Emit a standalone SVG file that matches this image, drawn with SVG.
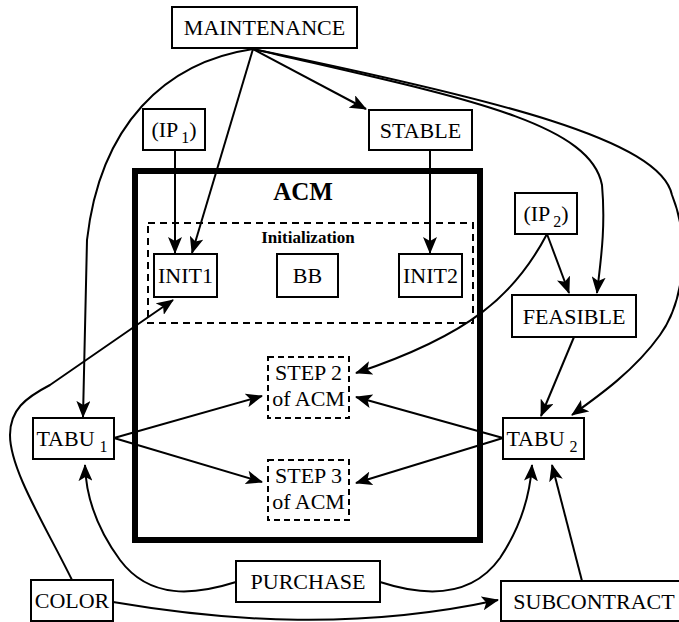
<svg xmlns="http://www.w3.org/2000/svg" width="679" height="622" viewBox="0 0 679 622">
<style>
.box{fill:#fff;stroke:#000;stroke-width:2}
.dash{fill:none;stroke:#000;stroke-width:2;stroke-dasharray:6,4}
text{font-family:'Liberation Serif','Times New Roman',serif;font-size:22px;fill:#000;text-anchor:middle}
.b{font-weight:bold}
.sub{font-size:16px}
.c{fill:none;stroke:#000;stroke-width:2;marker-end:url(#ah)}
</style>
<defs>
<marker id="ah" markerUnits="userSpaceOnUse" viewBox="0 0 17 14" markerWidth="17" markerHeight="14" refX="16" refY="7" orient="auto">
<path d="M0,0 L17,7 L0,14 L4,7 z" fill="#000"/>
</marker>
</defs>
<rect width="679" height="622" fill="#fff"/>

<g id="acm">
<rect x="135" y="171" width="345" height="369" fill="none" stroke="#000" stroke-width="6"/>
<text class="b" x="303" y="200" style="font-size:25px">ACM</text>
</g>
<g id="initialization">
<rect x="148" y="223" width="325" height="100" fill="none" stroke="#000" stroke-width="2" stroke-dasharray="7,5"/>
<text class="b" x="308" y="243" style="font-size:17px">Initialization</text>
</g>

<g id="connectors">
<path class="c" d="M253,49 L366,109"/>
<path class="c" d="M253,49 L192,253"/>
<path class="c" d="M175,150 L175,253"/>
<path class="c" d="M430,150 L430,253"/>
<path class="c" d="M253,49 C165,62 100,125 87,240 L83,417"/>
<path class="c" d="M253,49 C450,95 590,120 602,185 C606,230 600,265 597,293"/>
<path class="c" d="M253,49 C500,100 660,140 672,195 C690,240 685,300 660,335 C635,370 600,395 572,415"/>
<path class="c" d="M547,234 L569,293"/>
<path class="c" d="M547,234 C515,295 470,335 356,373"/>
<path class="c" d="M503,438 L356,397"/>
<path class="c" d="M503,438 L356,483"/>
<path class="c" d="M114,438 L262,396"/>
<path class="c" d="M114,438 L262,482"/>
<path class="c" d="M574,337 L541,416"/>
<path class="c" d="M72,580 C45,525 10,470 10,435 C10,410 25,398 50,385 L173,300"/>
<path class="c" d="M236,582 C195,595 150,600 120,560 C98,530 86,500 85,465"/>
<path class="c" d="M380,582 C420,595 470,600 500,558 C520,528 530,495 532,465"/>
<path class="c" d="M582,581 L552,465"/>
<path class="c" d="M113,602 C230,622 360,630 498,600"/>
</g>

<g id="maintenance"><rect class="box" x="172" y="7" width="185" height="41"/><text x="264.5" y="35">MAINTENANCE</text></g>
<g id="ip1"><rect class="box" x="143" y="109" width="62" height="41"/><text x="174" y="137">(IP<tspan class="sub" dx="3" dy="6">1</tspan><tspan dy="-6">)</tspan></text></g>
<g id="stable"><rect class="box" x="369" y="110" width="103" height="40"/><text x="420.5" y="137.5">STABLE</text></g>
<g id="init1"><rect class="box" x="154" y="254" width="63" height="43"/><text x="185.5" y="283">INIT1</text></g>
<g id="bb"><rect class="box" x="277" y="254" width="61" height="43"/><text x="307.5" y="283">BB</text></g>
<g id="init2"><rect class="box" x="399" y="254" width="63" height="43"/><text x="430.5" y="283">INIT2</text></g>
<g id="ip2"><rect class="box" x="515" y="193" width="62" height="41"/><text x="546" y="221">(IP<tspan class="sub" dx="3" dy="6">2</tspan><tspan dy="-6">)</tspan></text></g>
<g id="feasible"><rect class="box" x="512" y="295" width="124" height="42"/><text x="574" y="323.5">FEASIBLE</text></g>
<g id="step2"><rect class="dash" x="268" y="357" width="81" height="61"/><text x="308.5" y="380">STEP 2</text><text x="308.5" y="406">of ACM</text></g>
<g id="step3"><rect class="dash" x="268" y="460" width="81" height="60"/><text x="308.5" y="483">STEP 3</text><text x="308.5" y="509">of ACM</text></g>
<g id="tabu1"><rect class="box" x="33" y="418" width="81" height="41"/><text x="72" y="446">TABU<tspan class="sub" dx="5" dy="6">1</tspan></text></g>
<g id="tabu2"><rect class="box" x="503" y="418" width="81" height="41"/><text x="542" y="446">TABU<tspan class="sub" dx="5" dy="6">2</tspan></text></g>
<g id="purchase"><rect class="box" x="236" y="561" width="144" height="41"/><text x="308" y="589">PURCHASE</text></g>
<g id="color"><rect class="box" x="31" y="580" width="82" height="41"/><text x="72" y="608">COLOR</text></g>
<g id="subcontract"><rect class="box" x="501" y="581" width="180" height="40"/><text x="594" y="608.5">SUBCONTRACT</text></g>
</svg>
